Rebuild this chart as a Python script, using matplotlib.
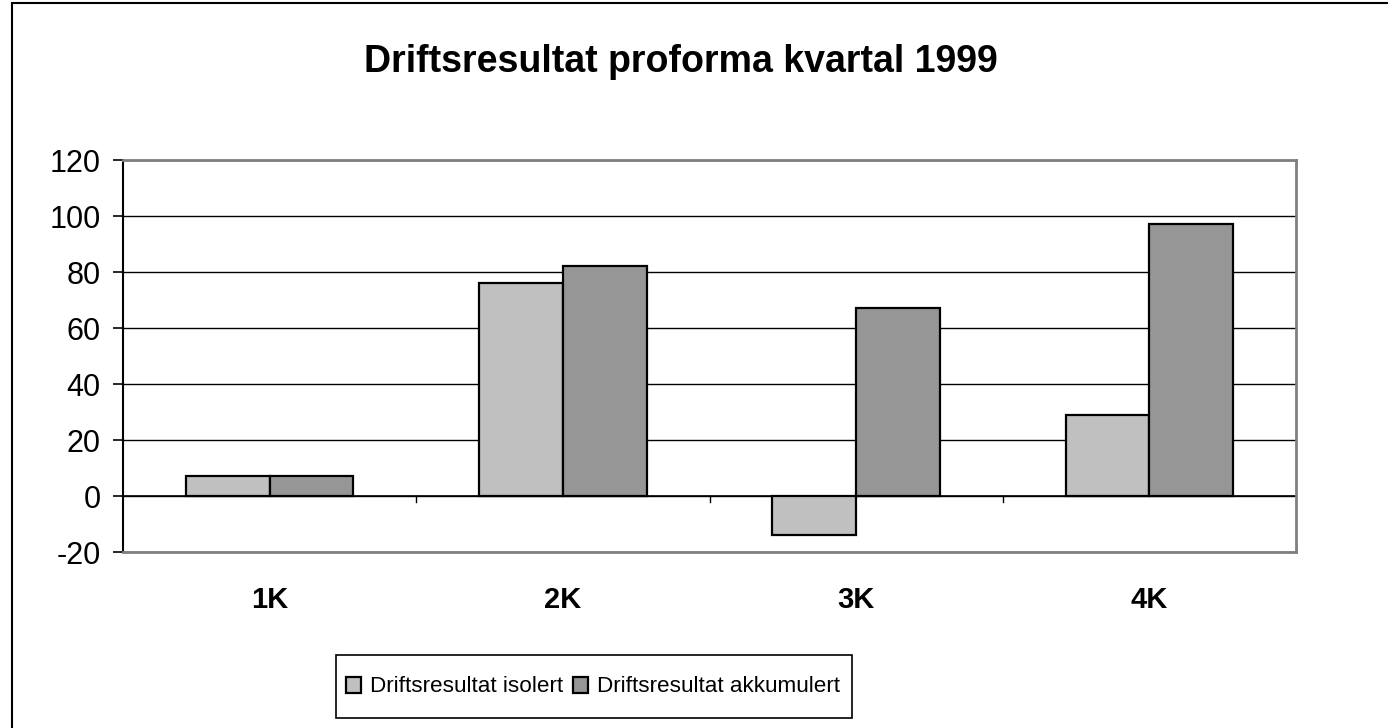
import matplotlib
matplotlib.use("Agg")
import matplotlib.pyplot as plt
import numpy as np

plt.rcParams['font.family'] = ['Liberation Sans', 'DejaVu Sans']

# Data
quarters = ["1K", "2K", "3K", "4K"]
isolert = [7, 76, -14, 29]
akkumulert = [7, 82, 67, 97]
y_ticks = [-20, 0, 20, 40, 60, 80, 100, 120]

W, H = 1388, 728
fig = plt.figure(figsize=(W / 100, H / 100), dpi=100)
ax = fig.add_axes([123 / W, 1 - 552 / H, (1296 - 123) / W, (552 - 160) / H])

x = np.arange(len(quarters))
w = 0.286
ax.bar(x - w / 2, isolert, w, color="#c0c0c0", edgecolor="black", linewidth=1.6,
       label="Driftsresultat isolert", zorder=3)
ax.bar(x + w / 2, akkumulert, w, color="#969696", edgecolor="black", linewidth=1.6,
       label="Driftsresultat akkumulert", zorder=3)

ax.set_xlim(-0.5, len(quarters) - 0.5)
ax.set_ylim(-20, 120)
ax.set_yticks(y_ticks)
ax.set_yticklabels([str(t) for t in y_ticks], fontsize=22)
ax.yaxis.grid(True, color="black", linewidth=1.0, zorder=0)
ax.tick_params(axis="y", direction="out", length=7, width=1.2, pad=9)

# category axis sits on zero, labels below the plot
ax.set_xticks([])
ax.axhline(0, color="black", linewidth=1.2, zorder=2)
for b in np.arange(0.5, len(quarters) - 0.5, 1.0):
    ax.plot([b, b], [0, -2.2], color="black", linewidth=1.0, zorder=2, clip_on=False)
for xi, q in zip(x, quarters):
    ax.text(xi, -37.3, q, ha="center", va="center", fontsize=21, fontweight="bold")

for side in ["top", "right", "bottom"]:
    ax.spines[side].set_color("#808080")
    ax.spines[side].set_linewidth(2)
ax.spines["left"].set_color("black")
ax.spines["left"].set_linewidth(1.5)

fig.text(681 / W, 1 - 62 / H, "Driftsresultat proforma kvartal 1999",
         ha="center", va="center", fontsize=27, fontweight="bold")

leg = fig.legend(loc="center", bbox_to_anchor=(593 / W, 1 - 687 / H), ncol=2,
                 fontsize=16.2, frameon=False,
                 handlelength=0.7, handleheight=0.7, handletextpad=0.4, columnspacing=0.4,
                 borderpad=0, borderaxespad=0)
fig.patches.append(plt.Rectangle((336 / W, 1 - 718 / H), (852 - 336) / W, (718 - 655) / H,
                                 transform=fig.transFigure, fill=False,
                                 edgecolor="black", linewidth=1.2))

# outer chart border
fig.patches.append(plt.Rectangle((12 / W, -0.1), 1.2, 1 - 3 / H + 0.1,
                                 transform=fig.transFigure, fill=False,
                                 edgecolor="black", linewidth=1.5))

fig.savefig("out.png", dpi=100)
